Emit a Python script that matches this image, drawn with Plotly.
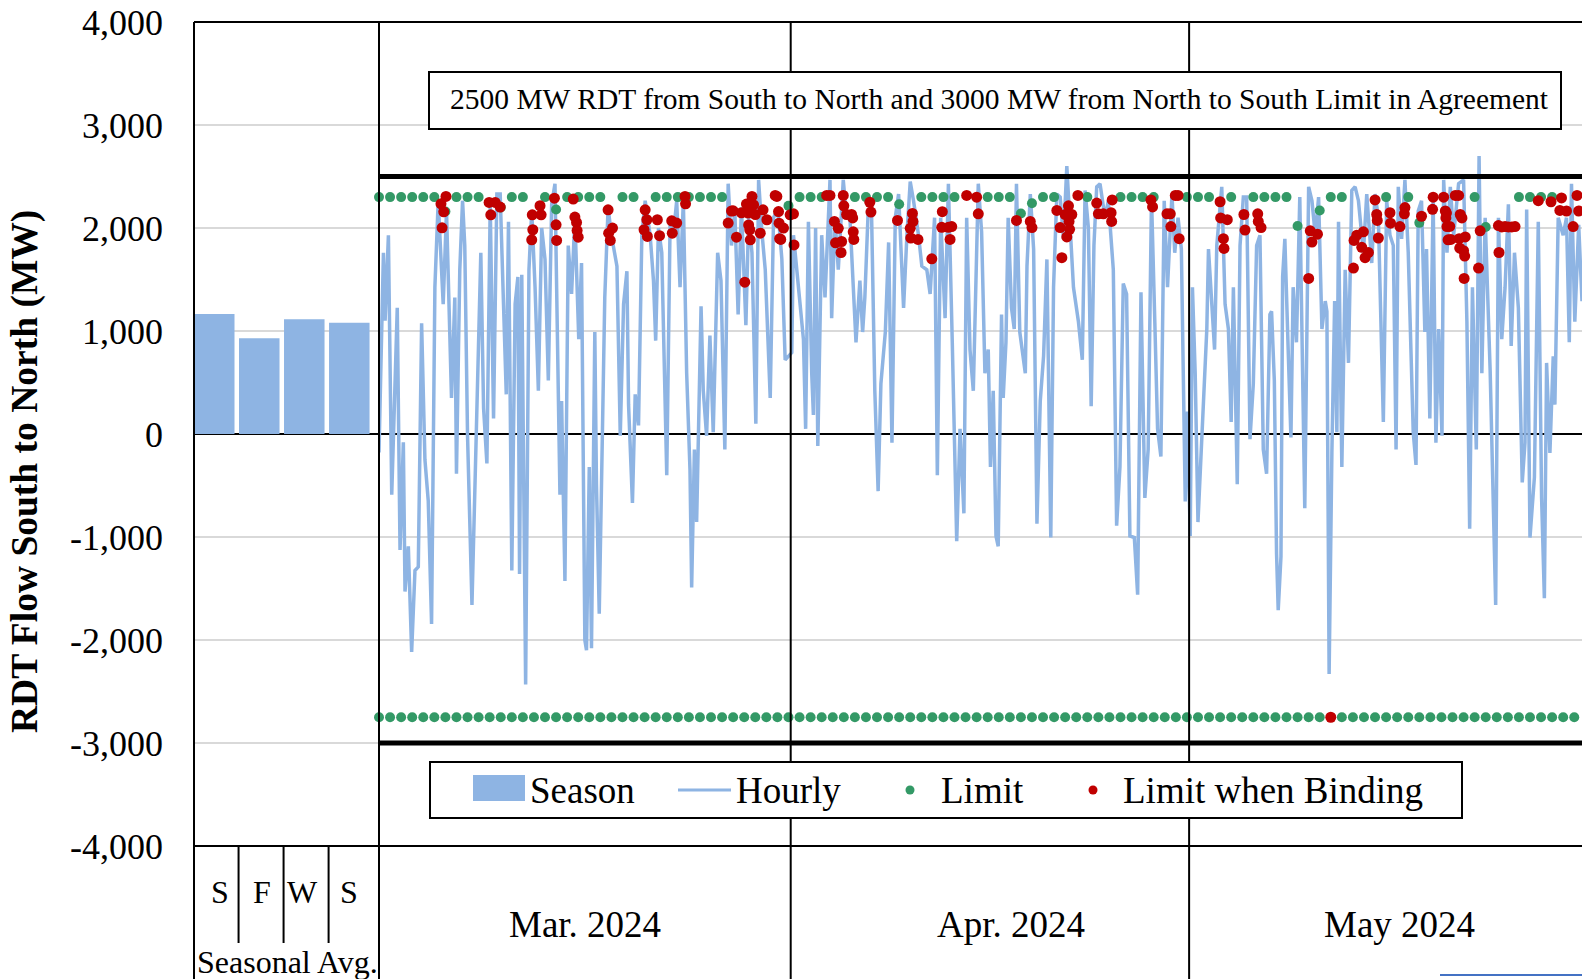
import pandas as pd
import plotly.graph_objects as go

# ---------------- data ----------------
season_labels = ["S", "F", "W", "S"]
season_avg_mw = [1165, 930, 1115, 1080]

period_start = "2024-03-01 00:00"
view_end_hour = 2174                      # picture is cropped near May 30
month_labels = ["Mar. 2024", "Apr. 2024", "May 2024"]
month_starts = ["2024-03-01", "2024-04-01", "2024-05-01"]
month_label_at = ["2024-03-16 12:00", "2024-04-17 15:00", "2024-05-16 20:00"]

agreement_s2n_mw = 2500
agreement_n2s_mw = -3000

# hourly RDT flow (hour since Mar 1 00:00, MW)
hourly_hour = [
    0, 8, 11, 17, 23, 29, 33, 38, 44, 47,
    53, 59, 65, 71, 77, 83, 89, 95, 101, 107,
    116, 122, 131, 137, 140, 146, 151, 155, 160, 168,
    174, 180, 184, 189, 195, 201, 207, 213, 219, 225,
    230, 234, 240, 246, 251, 254, 258, 265, 271, 276,
    282, 288, 294, 300, 306, 312, 318, 327, 330, 336,
    342, 348, 354,
    361, 366, 372, 375, 380, 384, 390, 393, 398, 404,
    408, 414, 420, 430, 436, 442, 448, 451, 458, 463,
    469, 475, 481, 490, 496, 500, 505, 511, 520, 526,
    532, 538, 544, 550, 556, 562, 565, 570, 574, 582,
    586, 592, 598, 604, 612, 618, 625, 631, 637, 643,
    649, 655, 663, 668, 674, 681, 686, 692, 698, 707,
    713,
    719, 722, 728, 734, 746, 749, 755, 761, 767, 771,
    776, 782, 785, 789, 793, 800, 806, 815, 818, 824,
    830, 839, 845, 851, 862, 869, 874, 878, 884, 890,
    896, 902, 907, 915, 921, 927, 933, 939, 948, 954,
    960, 966, 975, 981, 990, 996, 1004, 1009, 1015, 1023,
    1029, 1036, 1044, 1050, 1057, 1062, 1068, 1074,
    1077, 1083, 1089, 1095, 1101, 1105, 1110, 1115, 1119, 1125,
    1128, 1133, 1137, 1143, 1148, 1152, 1158, 1168, 1171, 1177,
    1183, 1189, 1195, 1201, 1207, 1211, 1214, 1219, 1225, 1231,
    1237, 1243, 1249, 1255, 1264, 1271, 1276, 1282, 1287, 1292,
    1297, 1303, 1312, 1318, 1327, 1333, 1339, 1345, 1351, 1357,
    1365, 1371, 1377, 1384, 1390, 1396, 1402, 1407, 1413, 1419,
    1425, 1433, 1438,
    1444, 1450, 1457, 1461, 1466, 1470, 1475, 1480, 1486, 1490,
    1496, 1499, 1505, 1510, 1514, 1523, 1529, 1535, 1540, 1544,
    1551, 1556, 1562, 1568, 1574, 1580, 1586, 1592, 1598, 1604,
    1610, 1613, 1618, 1622, 1625, 1630, 1633, 1637, 1643, 1648,
    1652, 1658, 1664, 1667, 1673, 1680, 1686, 1692, 1698, 1704,
    1710, 1713, 1717, 1722, 1727, 1731, 1734, 1740, 1746, 1752,
    1758, 1764, 1770, 1779, 1785, 1794,
    1800, 1806, 1815, 1821, 1827, 1833, 1838, 1842, 1848, 1854,
    1860, 1865, 1869, 1874, 1878, 1884, 1890, 1893, 1899, 1905,
    1910, 1915, 1921, 1924, 1930, 1936, 1942, 1951, 1960, 1966,
    1971, 1976, 1983, 1988, 1993, 1999, 2008, 2018, 2023, 2029,
    2035, 2041, 2046, 2052, 2059, 2066, 2071, 2074, 2080, 2088,
    2095, 2101, 2106, 2110, 2116, 2122, 2125, 2131, 2140, 2146,
    2151, 2155, 2161, 2168, 2174,
]
hourly_mw = [
    -180, 1760, 1100, 1930, -590, 550, 1225, -1125, -80, -1530,
    -1090, -2115, -1325, -1290, 1075, -250, -650, -1845, 1425, 2265,
    1260, 2165, 350, 1325, -385, 1595, 2265, 1830, -17, -1660,
    -250, 890, 1760, 250, -285, 2230, 150, 2330, 2330, 1260,
    385, 2060, -1325, 1260, 1525, -1360, 1545, -2433, 1595, 2165,
    1425, 420, 2000, 1695, 520, 2230, 2430, -590, 320, -1426,
    1830, 1360, 2100,
    920, 1660, -2000, -2100, -320, -2080, 990, -490, -1745, 350,
    1325, 2200, 1930, 1630, -17, 1260, 1580, 285, -670, 385,
    84, 1930, 2265, 1930, 1490, 906, 2000, 1760, -400, 2030,
    1930, 2265, 1425, 2265, 590, -350, -1490, -150, -855, 1240,
    420, -17, 955, 17, 1760, 1490, -150, 2430, 1830, 2165,
    1160, 2200, 1057, 2100, 1760, 100, 2467, 1960, 1595, 350,
    2100,
    2165, 2100, 1700, 720, 790, 1930, 1595, 1260, 920, 50,
    2060, 590, 185, 2000, -117, 1930, 1325, 2467, 1125, 2100,
    1595, 2467, 2100, 2100, 890, 1490, 990, 1325, 2165, 2180,
    420, -555, 487, 990, 1860, -85, 2100, 2330, 1225, 1930,
    2450, 2265, 1930, 1630, 1595, 1360, 2100, -400, 2100, 1125,
    2430, 890, -1040, 50, -770, 2100, 820, 420,
    1090, 2430, 1960, 590, 820, -320, 420, -990, -1090, 1160,
    350, 890, 2100, 1225, 1020, 2430, 990, 590, 1630, 2330,
    1795, -870, 320, 755, 1695, -85, -1005, 1425, 2330, 2300,
    1895, 2600, 2000, 1425, 1090, 720, 2365, 2000, 270, 1830,
    2400, 2430, 2100, 2265, 1595, -890, -320, 1460, 1360, -990,
    -1005, -1560, 1375, -620, -150, 2300, 1090, 50, -218, 2265,
    1425, 2330, 1760,
    2100, 1795, -655, 218, -990, 1425, 590, -855, -117, 420,
    1020, 1795, 1260, 820, 1830, 2400, 1260, 1020, 117, 1425,
    -487, 1830, 2300, 2300, -50, 487, 1830, 1930, -150, -385,
    1160, 1190, 520, -1160, -1710, -1190, 1525, 1895, 820, -33,
    1425, 890, 2300, 1160, -720, 2400, 2265, 1930, 2300, 1020,
    1290, 1190, -2330, -185, 1290, 17, 2060, -320, 1595, 690,
    2365, 2400, 2265, 1760, 2330, 1660,
    2330, 2100, 117, 2265, 1930, 1830, -150, 2400, 1895, 2467,
    1760, 790, 17, -300, 2165, 2265, 990, 1795, 150, 2300,
    -85, 1020, -17, 2467, 1760, 2400, 1930, 2430, 2467, 1090,
    -920, 1425, -150, 2700, 590, 2100, 620, -1660, 2100, 920,
    1425, 2230, 855, 1760, 1225, -470, -85, 2180, -1005, -420,
    2060, -620, -1595, 690, -185, 755, 285, 2100, 1930, 2100,
    890, 2430, 1090, 2030, 1290,
]

# limit markers, one every 20 hours (None = no marker shown)
limit_step_hours = 20
limit_s2n_mw = [
    2300, 2300, 2300, 2300, 2300, 2300, 2160, 2300, 2300, 2300,
    None, 2200, 2300, 2300, None, 2300, 2180, 2300, 2300, 2300,
    2300, None, 2300, 2300, None, 2300, 2300, 2300, 2300, 2300,
    2300, 2300, None, None, None, None, None, 2215, 2300, 2300,
    2300, None, None, 2300, 2300, 2300, 2300, 2230, None, 2300,
    2300, 2300, 2300, None, None, 2300, 2300, 2300, 2140, 2240,
    2300, 2300, None, None, 2300, None, None, 2300, 2300, 2300,
    2300, None, None, 2300, 2300, 2300, None, 2300, None, 2300,
    2300, 2300, 2300, 2020, None, 2170, 2300, 2300, None, None,
    None, 2300, None, 2300, 2050, None, None, None, None, 2300,
    2010, None, None, 2300, 2300, 2300, 2300, None, None,
]
limit_n2s_mw = [
    -2750, -2750, -2750, -2750, -2750, -2750, -2750, -2750, -2750, -2750,
    -2750, -2750, -2750, -2750, -2750, -2750, -2750, -2750, -2750, -2750,
    -2750, -2750, -2750, -2750, -2750, -2750, -2750, -2750, -2750, -2750,
    -2750, -2750, -2750, -2750, -2750, -2750, -2750, -2750, -2750, -2750,
    -2750, -2750, -2750, -2750, -2750, -2750, -2750, -2750, -2750, -2750,
    -2750, -2750, -2750, -2750, -2750, -2750, -2750, -2750, -2750, -2750,
    -2750, -2750, -2750, -2750, -2750, -2750, -2750, -2750, -2750, -2750,
    -2750, -2750, -2750, -2750, -2750, -2750, -2750, -2750, -2750, -2750,
    -2750, -2750, -2750, -2750, -2750, -2750, None, -2750, -2750, -2750,
    -2750, -2750, -2750, -2750, -2750, -2750, -2750, -2750, -2750, -2750,
    -2750, -2750, -2750, -2750, -2750, -2750, -2750, -2750, -2750,
]

# limit value at hours when the constraint was binding
binding_hour = [
    112, 114, 117, 121, 199, 202, 210, 219, 276, 277, 278, 291, 293, 317, 320, 321,
    351, 354, 357, 358, 360, 414, 415, 418, 422, 479, 481, 484, 485, 503, 507, 529,
    530, 538, 553, 554, 631, 637, 640, 646, 655, 661, 664, 667, 668, 670, 671, 674,
    677, 680, 689, 694, 701, 716, 719, 722, 723, 724, 726, 731, 743, 749, 750, 809,
    815, 823, 825, 830, 835, 836, 839, 840, 845, 854, 856, 857, 858, 887, 889, 937,
    960, 961, 964, 965, 974, 999, 1017, 1018, 1029, 1032, 1035, 1062, 1080, 1083, 1152, 1177,
    1180, 1225, 1231, 1234, 1240, 1243, 1246, 1247, 1248, 1252, 1263, 1297, 1300, 1309, 1323, 1324,
    1325, 1395, 1398, 1424, 1430, 1431, 1439, 1444, 1446, 1520, 1521, 1526, 1527, 1533, 1563, 1565,
    1588, 1589, 1594, 1680, 1683, 1686, 1696, 1720, 1761, 1762, 1767, 1776, 1779, 1782, 1788, 1800,
    1803, 1804, 1806, 1827, 1828, 1845, 1853, 1854, 1884, 1904, 1905, 1924, 1927, 1928, 1929, 1930,
    1932, 1935, 1937, 1945, 1951, 1952, 1953, 1954, 1957, 1960, 1961, 1962, 1963, 1987, 1990, 2023,
    2024, 2029, 2035, 2041, 2047, 2053, 2095, 2118, 2134, 2137, 2146, 2158, 2165, 2168,
]
binding_mw = [
    2235, 2002, 2157, 2306, 2248, 2128, 2248, 2203, 1885, 2128, 1983, 2216, 2128, 2290, 2031, 1879,
    2281, 2106, 2054, 1976, 1911, 2177, 1950, 1879, 1999, 1983, 2177, 2080, 1918, 2080, 1925, 2070,
    1950, 2048, 2306, 2235, 2048, 2165, 2167, 1911, 2148, 1474, 2232, 2145, 2030, 1983, 1885, 2306,
    2225, 2131, 1950, 2177, 2080, 2316, 2306, 2160, 2047, 1896, 1889, 1999, 2128, 2138, 1836, 2316,
    2316, 2064, 1856, 1997, 1762, 1869, 2316, 2215, 2131, 2131, 2098, 1963, 1889, 2249, 2155, 2074,
    1997, 1903, 2141, 2064, 1889, 1701, 2007, 2158, 2007, 1889, 2014, 2316, 2299, 2138, 2074, 2064,
    2004, 2171, 2004, 1712, 2131, 1913, 2215, 2064, 1987, 2131, 2316, 2242, 2138, 2138, 2148, 2064,
    2272, 2272, 2205, 2138, 2138, 2014, 2316, 2316, 1896, 2255, 2098, 1896, 1802, 2081, 2131, 1980,
    2138, 2064, 2004, 1510, 1973, 1863, 1940, -2750, 1611, 1879, 1930, 1812, 1963, 1712, 1762, 2272,
    2131, 2074, 1903, 2148, 2047, 2014, 2138, 2198, 2114, 2181, 2299, 2299, 2165, 2098, 2145, 2014,
    1885, 2015, 1889, 2316, 2316, 1896, 1805, 2131, 2098, 1779, 1510, 1728, 1913, 1611, 1973, 2024,
    1762, 2010, 2014, 2010, 2010, 2014, 2265, 2255, 2171, 2292, 2165, 2014, 2316, 2165,
]

# ---------------- style ----------------
FONT = "Liberation Serif, Times New Roman, serif"
BLUE = "#8EB4E3"
GREEN = "#339966"
RED = "#C00000"
GRID = "#D9D9D9"

W, H = 1582, 979
PL, PR, PT, PB = 194, 1582, 22, 846   # plot area in pixels
SPLIT = 379                            # seasonal / hourly boundary


def fx(px):
    return (px - PL) / (PR - PL)


def fy(py):
    return (PB - py) / (PB - PT)


t0 = pd.Timestamp(period_start)


def to_time(hours):
    return [t0 + pd.Timedelta(hours=h) for h in hours]


limit_hours = [i * limit_step_hours for i in range(len(limit_s2n_mw))]

fig = go.Figure()

fig.add_trace(go.Bar(
    x=list(range(len(season_avg_mw))), y=season_avg_mw, width=0.9,
    marker=dict(color=BLUE, line=dict(width=0)), name="Season",
    xaxis="x", yaxis="y", showlegend=False,
))
fig.add_trace(go.Scatter(
    x=to_time(hourly_hour), y=hourly_mw, mode="lines", name="Hourly",
    line=dict(color=BLUE, width=3.5), xaxis="x2", yaxis="y", showlegend=False,
))
for v in (agreement_s2n_mw, agreement_n2s_mw):
    fig.add_trace(go.Scatter(
        x=to_time([0, view_end_hour + 24]), y=[v, v], mode="lines",
        line=dict(color="black", width=5), xaxis="x2", yaxis="y",
        showlegend=False, hoverinfo="skip",
    ))
for series in (limit_s2n_mw, limit_n2s_mw):
    fig.add_trace(go.Scatter(
        x=to_time(limit_hours), y=series, mode="markers", name="Limit",
        marker=dict(color=GREEN, size=10), xaxis="x2", yaxis="y",
        cliponaxis=False, showlegend=False,
    ))
fig.add_trace(go.Scatter(
    x=to_time(binding_hour), y=binding_mw, mode="markers", name="Limit when Binding",
    marker=dict(color=RED, size=11), xaxis="x2", yaxis="y",
    cliponaxis=False, showlegend=False,
))

D1 = fx(SPLIT)
tickvals = list(range(-4000, 4001, 1000))
ticktext = [f"{v:,}" for v in tickvals]

fig.update_layout(
    width=W, height=H,
    margin=dict(l=PL, r=W - PR, t=PT, b=H - PB, pad=0),
    paper_bgcolor="white", plot_bgcolor="white",
    showlegend=False,
    font=dict(family=FONT, color="black"),
    xaxis=dict(domain=[0, D1], range=[-0.45, 3.66], showgrid=False, zeroline=False,
               showline=False, showticklabels=False, ticks="", anchor="y"),
    xaxis2=dict(domain=[D1, 1], type="date",
                range=[t0, t0 + pd.Timedelta(hours=view_end_hour)],
                showgrid=False, zeroline=False, showline=False,
                showticklabels=False, ticks="", anchor="y"),
    yaxis=dict(range=[-4000, 4000], tickvals=tickvals, ticktext=ticktext,
               tickfont=dict(family=FONT, size=36, color="black"),
               showgrid=True, gridcolor=GRID, gridwidth=2,
               zeroline=True, zerolinecolor="black", zerolinewidth=2,
               showline=False, ticks="", ticklabelstandoff=30, anchor="x"),
)

shapes = []
LINE = dict(color="black", width=2)
bottom = fy(H + 5)
# frame
shapes.append(dict(type="line", xref="paper", yref="paper", x0=0, x1=1, y0=1, y1=1, line=LINE))
shapes.append(dict(type="line", xref="paper", yref="paper", x0=0, x1=1, y0=0, y1=0, line=LINE))
shapes.append(dict(type="line", xref="paper", yref="paper", x0=0, x1=0, y0=1, y1=bottom, line=LINE))
shapes.append(dict(type="line", xref="paper", yref="paper", x0=D1, x1=D1, y0=1, y1=bottom, line=LINE))
for m in month_starts[1:]:
    shapes.append(dict(type="line", xref="x2", yref="paper", x0=m, x1=m, y0=1, y1=bottom, line=LINE))
for b in (0.54, 1.54, 2.54):
    shapes.append(dict(type="line", xref="x", yref="paper", x0=b, x1=b, y0=0, y1=fy(943), line=LINE))

# note box
shapes.append(dict(type="rect", xref="paper", yref="paper", x0=fx(429), x1=fx(1561),
                   y0=fy(129), y1=fy(72), line=LINE, fillcolor="white"))
# legend box and keys
shapes.append(dict(type="rect", xref="paper", yref="paper", x0=fx(430), x1=fx(1462),
                   y0=fy(818), y1=fy(762), line=LINE, fillcolor="white"))
shapes.append(dict(type="rect", xref="paper", yref="paper", x0=fx(473), x1=fx(525),
                   y0=fy(801), y1=fy(775), line=dict(width=0), fillcolor=BLUE))
shapes.append(dict(type="line", xref="paper", yref="paper", x0=fx(678), x1=fx(731),
                   y0=fy(790), y1=fy(790), line=dict(color=BLUE, width=3)))
for cx, col in ((910, GREEN), (1093, RED)):
    shapes.append(dict(type="circle", xref="paper", yref="paper",
                       x0=fx(cx - 4.5), x1=fx(cx + 4.5), y0=fy(790 + 4.5), y1=fy(790 - 4.5),
                       line=dict(width=0), fillcolor=col))
# cropped element at bottom right
shapes.append(dict(type="line", xref="paper", yref="paper", x0=fx(1440), x1=1,
                   y0=fy(975), y1=fy(975), line=dict(color="#4472C4", width=2)))
fig.update_layout(shapes=shapes)

ann = []


def text(x, y, s, size, xref="paper", xanchor="center", **kw):
    ann.append(dict(x=x, y=y, xref=xref, yref="paper", text=s, showarrow=False,
                    xanchor=xanchor, yanchor="middle",
                    font=dict(family=FONT, size=size, color="black"), **kw))


text(fx(999), fy(99), "2500 MW RDT from South to North and 3000 MW from North to South Limit in Agreement", 29.5)
text(fx(528), fy(790), "Season", 37, xanchor="left")
text(fx(734), fy(790), "Hourly", 37, xanchor="left")
text(fx(939), fy(790), "Limit", 37, xanchor="left")
text(fx(1121), fy(790), "Limit when Binding", 37, xanchor="left")
season_label_x = [0.12, 1.05, 1.95, 3.0]
for xpos, lab in zip(season_label_x, season_labels):
    text(xpos, fy(892), lab, 32, xref="x")
for lab, at in zip(month_labels, month_label_at):
    text(at, fy(924), lab, 37, xref="x2")
text(fx(195), fy(962), "Seasonal Avg.", 32, xanchor="left")
text(fx(25), fy(472), "<b>RDT Flow South to North (MW)</b>", 37.5, textangle=-90)
fig.update_layout(annotations=ann)

fig.write_html(
    "out.html",
    config={"displayModeBar": False},
    post_script="document.body.style.margin='0';document.body.style.overflow='hidden';",
)
